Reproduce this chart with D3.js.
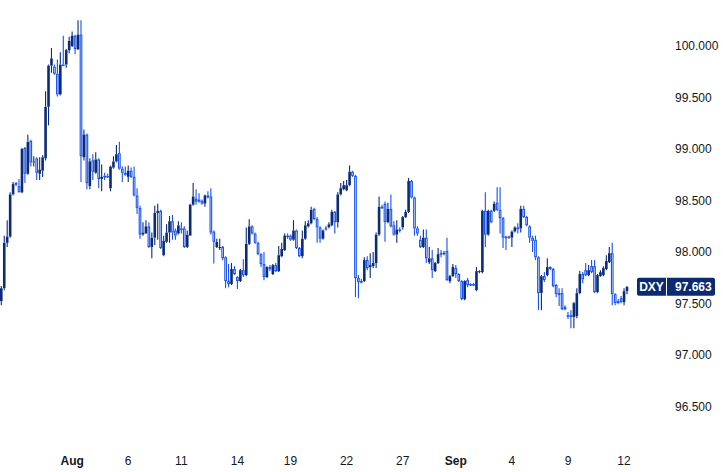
<!DOCTYPE html>
<html><head><meta charset="utf-8">
<script src="https://cdn.jsdelivr.net/npm/d3@7"></script>
<style>html,body{margin:0;padding:0;background:#fff;}svg{display:block;}</style>
</head><body>
<svg id="c" width="723" height="472"></svg>
<script>
// 4H candles of DXY, late July → Sep 12
const opens  = [97.524,97.650,98.09,98.15,98.56,98.67,98.64,98.58,99.01,98.76,99.08,98.87,98.91,98.76,98.79,98.91,99.41,99.81,99.80,99.73,99.53,99.82,99.82,99.96,100.00,100.10,99.97,100.11,98.92,99.14,98.64,98.89,98.77,98.90,98.71,98.74,98.74,98.62,98.82,98.88,98.96,98.81,98.77,98.73,98.79,98.73,98.55,98.43,98.17,98.18,98.25,98.05,98.14,98.38,98.40,97.97,98.10,98.19,98.30,98.21,98.18,98.23,98.23,98.05,98.16,98.46,98.52,98.51,98.50,98.47,98.55,98.54,98.20,98.05,98.04,98.05,97.95,97.719,97.690,97.836,97.758,97.719,97.825,97.777,98.08,98.25,98.18,98.09,97.98,97.884,97.758,97.855,97.787,97.874,97.816,97.96,98.02,98.16,98.16,98.12,98.21,98.04,97.96,98.13,98.25,98.28,98.42,98.32,98.24,98.13,98.22,98.24,98.26,98.39,98.29,98.56,98.61,98.60,98.65,98.78,98.74,97.748,97.719,97.719,97.923,97.855,97.864,97.894,98.17,98.44,98.47,98.29,98.42,98.26,98.17,98.22,98.24,98.34,98.39,98.69,98.53,98.23,98.12,98.05,98.14,97.903,97.94,97.816,97.894,97.99,97.98,98.01,97.719,97.767,97.845,97.787,97.719,97.544,97.728,97.690,97.690,97.631,97.806,97.806,98.40,98.17,98.40,98.40,98.48,98.41,98.33,98.15,98.14,98.14,98.20,98.24,98.23,98.42,98.34,98.25,98.14,98.12,97.95,97.602,97.767,97.777,97.855,97.836,97.680,97.602,97.602,97.466,97.388,97.388,97.369,97.379,97.602,97.787,97.825,97.777,97.864,97.864,97.612,97.767,97.777,97.836,97.903,97.99,97.592,97.524,97.553,97.515,97.621];
const highs  = [97.670,98.16,98.31,98.58,98.68,98.68,98.71,99.01,99.02,99.14,99.09,98.93,98.92,98.92,98.94,99.56,99.82,99.98,99.82,99.87,99.94,100.10,99.97,100.09,100.14,100.11,100.25,100.25,99.19,99.15,98.91,98.95,98.97,98.91,98.85,98.77,98.76,98.84,98.93,99.04,99.07,98.83,98.83,98.84,98.82,98.83,98.62,98.45,98.29,98.31,98.29,98.19,98.45,98.47,98.41,98.16,98.27,98.35,98.36,98.23,98.30,98.29,98.25,98.21,98.47,98.67,98.61,98.57,98.51,98.56,98.59,98.62,98.21,98.13,98.13,98.06,97.96,97.884,97.894,97.864,97.767,97.836,97.93,98.24,98.32,98.26,98.19,98.10,97.99,98.00,97.864,97.874,97.884,97.894,98.06,98.09,98.18,98.18,98.17,98.31,98.22,98.05,98.21,98.30,98.31,98.44,98.43,98.34,98.25,98.22,98.25,98.29,98.41,98.40,98.58,98.67,98.69,98.70,98.84,98.79,98.75,97.777,97.738,97.95,97.96,97.99,98.00,98.19,98.54,98.46,98.49,98.48,98.56,98.30,98.31,98.24,98.35,98.41,98.72,98.70,98.54,98.25,98.16,98.22,98.22,98.05,98.02,97.903,98.04,98.02,98.01,98.14,97.777,97.884,97.874,97.796,97.728,97.728,97.748,97.699,97.699,97.855,97.825,98.41,98.58,98.41,98.41,98.49,98.63,98.63,98.34,98.16,98.16,98.21,98.25,98.28,98.45,98.45,98.35,98.26,98.16,98.16,97.96,97.777,97.806,97.94,97.864,97.845,97.690,97.650,97.650,97.485,97.418,97.437,97.515,97.650,97.816,97.806,97.894,97.874,97.923,97.923,97.787,97.825,97.864,97.97,98.05,98.09,97.602,97.544,97.573,97.650,97.670];
const lows   = [97.485,97.631,98.05,98.14,98.55,98.64,98.58,98.57,98.67,98.75,98.83,98.83,98.70,98.70,98.73,98.89,99.23,99.74,99.72,99.51,99.52,99.81,99.79,99.93,99.99,99.92,99.96,98.68,98.89,98.61,98.61,98.70,98.76,98.62,98.59,98.70,98.72,98.59,98.81,98.87,98.80,98.68,98.74,98.68,98.72,98.54,98.37,98.13,98.16,98.18,98.04,97.94,98.07,98.12,98.03,97.96,98.09,98.09,98.12,98.12,98.17,98.18,98.04,98.04,98.16,98.45,98.46,98.48,98.46,98.44,98.52,98.17,97.89,98.04,98.02,97.92,97.650,97.660,97.680,97.777,97.641,97.709,97.758,97.767,98.07,98.17,98.08,97.97,97.855,97.728,97.748,97.816,97.777,97.806,97.806,97.95,98.01,98.13,98.11,98.11,98.03,97.95,97.94,98.12,98.24,98.27,98.31,98.09,98.09,98.12,98.21,98.23,98.25,98.18,98.24,98.55,98.60,98.59,98.64,98.73,97.563,97.553,97.699,97.709,97.825,97.748,97.845,97.845,98.16,98.42,98.10,98.28,98.24,98.16,98.09,98.19,98.22,98.33,98.38,98.52,98.16,98.16,98.04,98.04,97.894,97.884,97.748,97.806,97.884,97.95,97.97,97.719,97.699,97.758,97.748,97.709,97.534,97.534,97.660,97.670,97.670,97.621,97.796,97.796,98.05,98.16,98.28,98.39,98.40,98.18,98.04,98.02,98.13,98.05,98.19,98.18,98.19,98.33,98.25,98.09,98.00,97.923,97.437,97.437,97.709,97.767,97.825,97.660,97.563,97.476,97.437,97.437,97.350,97.262,97.262,97.359,97.592,97.699,97.767,97.767,97.796,97.602,97.602,97.758,97.767,97.825,97.894,97.485,97.485,97.495,97.505,97.485,97.592];
const closes = [97.650,98.09,98.15,98.56,98.66,98.66,98.58,99.00,98.76,99.07,98.87,98.88,98.77,98.80,98.92,99.41,99.81,99.88,99.73,99.53,99.82,99.81,99.96,100.05,100.10,99.97,100.11,98.93,99.14,98.67,98.88,98.78,98.90,98.71,98.73,98.73,98.73,98.83,98.88,98.95,98.81,98.77,98.75,98.79,98.73,98.55,98.43,98.17,98.19,98.25,98.05,98.14,98.38,98.40,98.04,98.11,98.19,98.30,98.19,98.16,98.26,98.22,98.05,98.17,98.46,98.54,98.49,98.49,98.47,98.55,98.53,98.19,98.10,98.10,98.05,97.94,97.719,97.690,97.836,97.787,97.719,97.825,97.777,98.08,98.25,98.18,98.09,97.98,97.884,97.758,97.855,97.836,97.874,97.816,97.97,98.03,98.16,98.15,98.12,98.21,98.04,97.96,98.13,98.26,98.28,98.41,98.32,98.24,98.13,98.21,98.23,98.27,98.39,98.29,98.56,98.62,98.65,98.65,98.78,98.74,97.748,97.709,97.709,97.923,97.845,97.874,97.894,98.17,98.44,98.43,98.29,98.42,98.25,98.17,98.22,98.21,98.34,98.39,98.69,98.53,98.23,98.18,98.05,98.14,97.94,97.94,97.825,97.894,97.98,97.98,97.99,97.728,97.767,97.855,97.787,97.719,97.544,97.719,97.680,97.680,97.680,97.816,97.816,98.40,98.17,98.40,98.29,98.47,98.41,98.33,98.14,98.14,98.15,98.20,98.24,98.22,98.42,98.34,98.26,98.14,98.11,97.95,97.602,97.767,97.728,97.855,97.836,97.670,97.592,97.583,97.447,97.447,97.379,97.369,97.505,97.602,97.787,97.738,97.777,97.825,97.806,97.612,97.777,97.806,97.845,97.913,97.99,97.592,97.505,97.505,97.515,97.621,97.663];

const priceTicks = [100.0, 99.5, 99.0, 98.5, 98.0, 97.5, 97.0, 96.5];
const dateTickBars = [24, 43, 61, 80, 98, 117, 136, 154, 173, 192, 211];
const dateTickLabels = ["Aug","6","11","14","19","22","27","Sep","4","9","12"];
const symbol = "DXY";
const lastPrice = 97.663;

const bars = opens.map((o,i)=>({i, o, h:highs[i], l:lows[i], c:closes[i]}));

const svg = d3.select("#c");
const UP = "#0b2a78", DOWN = "#1652ef", TXT = "#131722";
const FONT = "'Liberation Sans', Arial, sans-serif";

const x = d3.scalePoint().domain(d3.range(bars.length)).range([1.3, 627]);
const y = d3.scaleLinear().domain([96.5, 100]).range([406.7, 46]);
const step = x.step();
const bw = step * 0.88;

const g = svg.append("g");
bars.forEach(b => {
  const cx = x(b.i);
  const up = b.c >= b.o;
  const col = up ? UP : DOWN;
  const top = y(Math.max(b.o, b.c)), bot = y(Math.min(b.o, b.c));
  g.append("line").attr("x1",cx).attr("x2",cx).attr("y1",y(b.h)).attr("y2",top)
    .attr("stroke",col).attr("stroke-width",1.1);
  g.append("line").attr("x1",cx).attr("x2",cx).attr("y1",bot).attr("y2",y(b.l))
    .attr("stroke",col).attr("stroke-width",1.1);
  if (up) {
    g.append("rect").attr("x",cx-bw/2).attr("width",bw)
      .attr("y",top).attr("height",Math.max(1,bot-top)).attr("fill",col);
  } else {
    g.append("rect").attr("x",cx-(bw-1)/2).attr("width",bw-1)
      .attr("y",top+0.5).attr("height",Math.max(0.5,bot-top-1))
      .attr("fill","#fff").attr("stroke",col).attr("stroke-width",1.1);
  }
});

// price axis labels
svg.append("g").selectAll("text").data(priceTicks).join("text")
  .attr("x",675).attr("y",d=>y(d)+4)
  .attr("font-family",FONT).attr("font-size",12).attr("fill",TXT)
  .text(d=>d3.format(".3f")(d));

// date labels
svg.append("g").selectAll("text").data(dateTickBars).join("text")
  .attr("x",d=>x(d)).attr("y",465).attr("text-anchor","middle")
  .attr("font-family",FONT).attr("font-size",12).attr("fill",TXT)
  .attr("font-weight",(d,i)=>/^[A-Za-z]/.test(dateTickLabels[i])?"bold":"normal")
  .text((d,i)=>dateTickLabels[i]);

// last price label
const ly = y(lastPrice);
const lab = svg.append("g");
lab.append("rect").attr("x",637).attr("y",ly-9).attr("width",78).attr("height",18)
  .attr("rx",2).attr("fill","#0c2a70");
lab.append("line").attr("x1",666.5).attr("x2",666.5).attr("y1",ly-9).attr("y2",ly+9)
  .attr("stroke","#fff").attr("stroke-width",1);
lab.append("text").attr("x",651.5).attr("y",ly+4.5).attr("text-anchor","middle")
  .attr("font-family",FONT).attr("font-size",12).attr("font-weight","bold").attr("fill","#fff").text(symbol);
lab.append("text").attr("x",675).attr("y",ly+4.5)
  .attr("font-family",FONT).attr("font-size",12).attr("font-weight","bold").attr("fill","#fff")
  .text(d3.format(".3f")(lastPrice));
</script>
</body></html>
